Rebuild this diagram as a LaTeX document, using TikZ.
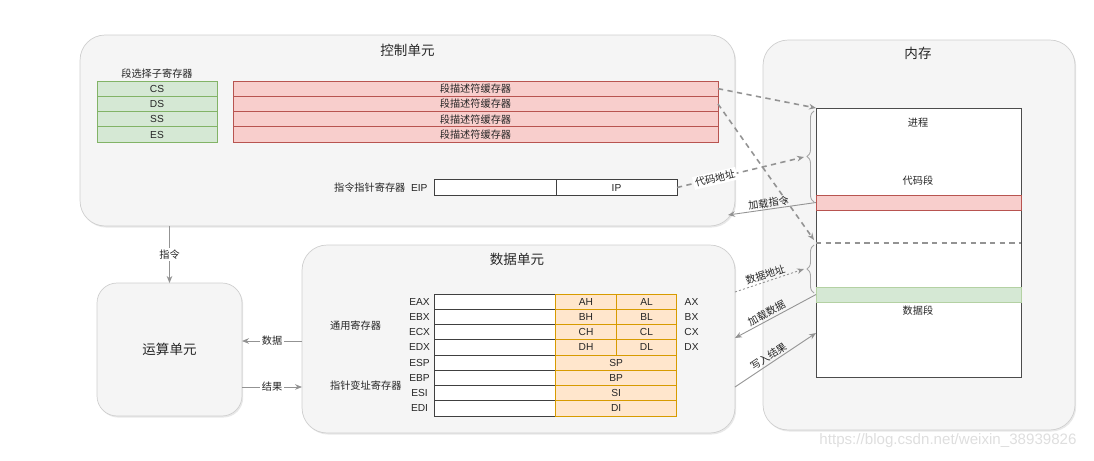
\documentclass[tikz,border=0pt]{standalone}
\usepackage{fontspec}
\setmainfont{Liberation Sans}
\newfontfamily\cjk{Noto Sans CJK SC}
\usetikzlibrary{arrows.meta, positioning, calc, shadows, decorations.pathreplacing}
\definecolor{boxfill}{HTML}{F5F5F5}
\definecolor{boxline}{HTML}{CFCFCF}
\definecolor{selfill}{HTML}{D5E8D4}
\definecolor{selline}{HTML}{82B366}
\definecolor{descfill}{HTML}{F8CECC}
\definecolor{descline}{HTML}{B85450}
\definecolor{halffill}{HTML}{FFE6CC}
\definecolor{halfline}{HTML}{D79B00}
\definecolor{wire}{HTML}{939393}

\begin{document}
\begin{tikzpicture}[x=0.02cm, y=-0.02cm,
            unit/.style={draw=boxline, fill=boxfill, rounded corners=0.5cm, inner sep=0pt, outer sep=0pt,
                drop shadow={opacity=0.18, shadow xshift=0.7pt, shadow yshift=-0.9pt}},
            title/.style={font=\cjk\fontsize{7.7}{9}\selectfont, text=black!85},
            lbl/.style={font=\cjk\fontsize{5.8}{7}\selectfont, text=black!85, inner sep=1pt},
            reglbl/.style={font=\fontsize{5.8}{7}\selectfont, text=black!85, inner sep=1pt},
            cell/.style={draw, line width=0.5pt, inner sep=0pt, outer sep=0pt, minimum height=0.305cm,
                font=\fontsize{5.8}{7}\selectfont, text=black!85},
            selreg/.style={cell, draw=selline, fill=selfill, minimum width=2.4cm},
            descreg/.style={cell, draw=descline, fill=descfill, minimum width=9.7cm, font=\cjk\fontsize{5.8}{7}\selectfont},
            plainreg/.style={cell, draw=black!75, fill=white, minimum width=2.43cm},
            halfreg/.style={cell, draw=halfline, fill=halffill, minimum width=1.21cm},
            wordreg/.style={cell, draw=halfline, fill=halffill, minimum width=2.42cm},
            band/.style={inner sep=0pt, outer sep=0pt, minimum width=4.1cm, minimum height=0.3cm, line width=0.5pt},
            edgelbl/.style={lbl, fill=white},
            tip/.style={-{Stealth[length=4pt, width=3.2pt]}, draw=wire, line width=0.5pt},
            backtip/.style={{Stealth[length=4pt, width=3.2pt]}-, draw=wire, line width=0.5pt},
            dashtip/.style={tip, line width=0.9pt, dash pattern=on 3pt off 2.5pt},
            dottip/.style={tip, dash pattern=on 1.2pt off 1.2pt},
            membrace/.style={draw=black!35, line width=0.5pt, decorate, decoration={brace, amplitude=4pt}},
        ]
            \useasboundingbox (0,0) rectangle (1094,460);

            % Units
            \node[unit, minimum width=13.1cm, minimum height=3.82cm] (ctrl) at (407.5,130.5) {};
            \node[unit, minimum width=6.24cm, minimum height=7.8cm] (mem) at (919,235) {};
            \node[unit, minimum width=8.66cm, minimum height=3.76cm] (data) at (518.5,339) {};
            \node[unit, rounded corners=0.4cm, minimum width=2.9cm, minimum height=2.66cm, title] (alu) at (169.5,349.5) {运算单元};
            \node[title] (ctrlname) at (407.5,50) {控制单元};
            \node[title] (memname) at (918,53) {内存};
            \node[title] (dataname) at (517,259) {数据单元};

            % Segment selectors and descriptor caches
            \foreach \r [count=\i] in {CS,DS,SS,ES} {
                \node[selreg] (sel\i) at (157,73.35+15.3*\i) {\r};
                \node[descreg] (desc\i) at (475.5,73.35+15.3*\i) {段描述符缓存器};
            }
            \node[lbl, above=0.5pt of sel1] (selname) {段选择子寄存器};

            % Instruction pointer
            \node[plainreg, minimum width=2.44cm] (eip) at (495,187.5) {};
            \node[plainreg, minimum width=2.42cm, right=0pt of eip] (ip) {IP};
            \node[reglbl, left=2.5pt of eip] (eipname) {{\cjk 指令指针寄存器}\ \ EIP};

            % General and pointer registers
            \foreach \e/\h/\l/\x [count=\i] in {EAX/AH/AL/AX, EBX/BH/BL/BX, ECX/CH/CL/CX, EDX/DH/DL/DX} {
                \node[plainreg] (gp\i) at (495,286.4+15.25*\i) {};
                \node[halfreg] (hi\i) at (586,286.4+15.25*\i) {\h};
                \node[halfreg] (lo\i) at (646.5,286.4+15.25*\i) {\l};
                \node[reglbl] (gpname\i) at (419.5,286.4+15.25*\i) {\e};
                \node[reglbl] (wname\i) at (691.5,286.4+15.25*\i) {\x};
            }
            \foreach \e/\w [count=\i from 5] in {ESP/SP, EBP/BP, ESI/SI, EDI/DI} {
                \node[plainreg] (gp\i) at (495,286.4+15.25*\i) {};
                \node[wordreg] (wd\i) at (616.2,286.4+15.25*\i) {\w};
                \node[reglbl] (gpname\i) at (419.5,286.4+15.25*\i) {\e};
            }
            \node[lbl, anchor=west] (gpgroup) at (328,326) {通用寄存器};
            \node[lbl, anchor=west] (ptrgroup) at (328,386) {指针变址寄存器};

            % Memory layout
            \node[band, draw=black!70, fill=white, minimum height=5.38cm] (proc) at (918.5,242.5) {};
            \node[band, draw=descline, fill=descfill] (codeseg) at (918.5,202.5) {};
            \node[band, draw=selline!60, fill=selfill] (dataseg) at (918.5,294.5) {};
            \draw[wire, line width=0.9pt, dash pattern=on 3pt off 2.5pt] (proc.west |- 0,243) -- (proc.east |- 0,243);
            \node[lbl] (proctext) at (918,123) {进程};
            \node[lbl] (codetext) at (918,181) {代码段};
            \node[lbl] (datatext) at (918,311) {数据段};
            \draw[membrace] (814,202) -- (814,111);
            \draw[membrace] (814,293) -- (814,245);
            \coordinate (codebrace) at (804,157);
            \coordinate (databrace) at (804,269);
            \coordinate (datatop) at (814,240);
            \coordinate (ctrlin) at (728,215);

            % Control unit <-> memory
            \draw[dashtip] (desc1.east) -- (proc.north west);
            \draw[dashtip] (desc2.east) -- (datatop);
            \draw[dashtip] (ip.east) -- node[edgelbl, sloped, pos=0.3] {代码地址} (codebrace);
            \draw[backtip] (ctrlin) -- node[lbl, sloped, above, pos=0.47, inner sep=0.5pt] {加载指令} (codeseg.west);

            % Data unit <-> memory
            \draw[dottip] (data.east |- 0,292) -- node[lbl, sloped, above, pos=0.47] {数据地址} (databrace);
            \draw[backtip] (data.east |- 0,338) -- node[lbl, sloped, above, pos=0.43] {加载数据} (dataseg.west);
            \draw[tip] (data.east |- 0,387) -- node[lbl, sloped, above, pos=0.46] {写入结果} (proc.west |- 0,333);

            % Arithmetic unit
            \draw[tip] (ctrl.south -| alu.north) -- node[edgelbl] {指令} (alu.north);
            \draw[tip] (data.west |- 0,341) -- node[edgelbl] {数据} (alu.east |- 0,341);
            \draw[tip] (alu.east |- 0,387) -- node[edgelbl] {结果} (data.west |- 0,387);

            % Watermark
            \node[font=\fontsize{8.6}{10}\selectfont, text=black!13] (mark) at (948,441) {https://blog.csdn.net/weixin\_38939826};
        \end{tikzpicture}
\end{document}
